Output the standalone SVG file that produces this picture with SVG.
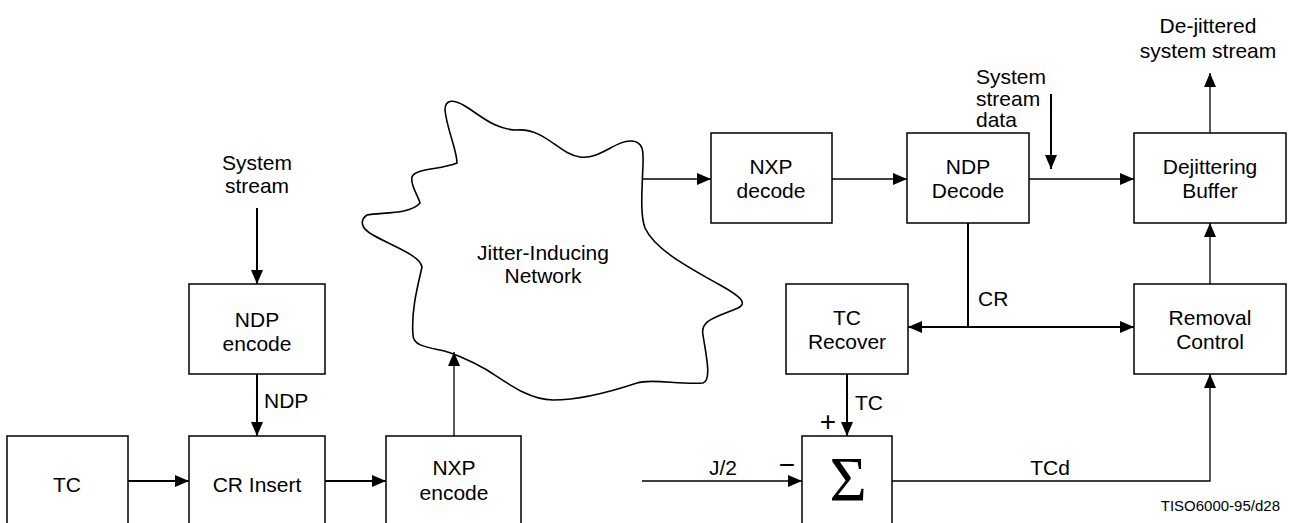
<svg xmlns="http://www.w3.org/2000/svg" width="1290" height="523" viewBox="0 0 1290 523">
<style>
.box{fill:#fff;stroke:#000;stroke-width:1.5}
.t{font-family:"Liberation Sans",Arial,sans-serif;font-size:21px;fill:#000;text-anchor:middle}
.l{text-anchor:start}
.thick{stroke:#000;stroke-width:2;fill:none}
.thin{stroke:#000;stroke-width:1.3;fill:none}
.arr{marker-end:url(#ah)}
</style>
<defs>
<marker id="ah" viewBox="0 0 14 12" refX="14" refY="6" markerWidth="14" markerHeight="12" markerUnits="userSpaceOnUse" orient="auto-start-reverse"><path d="M0,0 L14,6 L0,12 z" fill="#000"/></marker>
</defs>
<rect width="1290" height="523" fill="#fff"/>

<g id="cloud">
<path class="thin" style="stroke-width:1.6" d="M445,110 C445,98 455,100 465,106 C480,115 495,130 517,130 C545,128 560,155 580,157 C600,160 615,140 632,141 C645,142 643,155 643,165 C642,190 640,215 645,228 C655,250 690,268 720,285 C740,296 748,303 738,308 C715,318 700,320 703,335 C706,355 712,380 703,383 C680,385 650,378 637,383 C610,392 580,400 553,400 C530,400 510,385 487,370 C470,360 450,352 440,350 C425,347 413,345 413,335 C411,310 418,285 422,267 C420,255 390,245 373,235 C360,228 360,220 367,215 C380,212 410,215 420,203 C418,195 410,185 412,177 C415,168 440,170 457,163 C457,150 447,130 445,110 Z"/>
<text class="t" x="543" y="260">Jitter-Inducing</text>
<text class="t" x="543" y="283">Network</text>
</g>

<g id="tc"><rect class="box" x="7" y="436" width="121" height="100"/><text class="t" x="67" y="492">TC</text></g>
<g id="crinsert"><rect class="box" x="189" y="436" width="136" height="100"/><text class="t" x="257" y="492">CR Insert</text></g>
<g id="nxpencode"><rect class="box" x="386" y="436" width="135" height="100"/><text class="t" x="454" y="475">NXP</text><text class="t" x="454" y="500">encode</text></g>
<g id="ndpencode"><rect class="box" x="189" y="284" width="136" height="90"/><text class="t" x="257" y="327">NDP</text><text class="t" x="257" y="351">encode</text></g>
<g id="nxpdecode"><rect class="box" x="711" y="133" width="121" height="90"/><text class="t" x="771" y="174">NXP</text><text class="t" x="771" y="198">decode</text></g>
<g id="ndpdecode"><rect class="box" x="907" y="133" width="122" height="90"/><text class="t" x="968" y="174">NDP</text><text class="t" x="968" y="198">Decode</text></g>
<g id="dejitter"><rect class="box" x="1134" y="133" width="152" height="90"/><text class="t" x="1210" y="174">Dejittering</text><text class="t" x="1210" y="198">Buffer</text></g>
<g id="tcrecover"><rect class="box" x="786" y="284" width="122" height="90"/><text class="t" x="847" y="325">TC</text><text class="t" x="847" y="349">Recover</text></g>
<g id="removal"><rect class="box" x="1134" y="284" width="152" height="90"/><text class="t" x="1210" y="325">Removal</text><text class="t" x="1210" y="349">Control</text></g>
<g id="sigma"><rect class="box" x="802" y="436" width="90" height="100"/><text x="848" y="501" style="font-family:'Liberation Serif','Times New Roman',serif;font-size:64px;text-anchor:middle">Σ</text></g>

<g id="connectors">
<line class="thick arr" x1="128" y1="481" x2="189" y2="481"/>
<line class="thick arr" x1="325" y1="481" x2="386" y2="481"/>
<line class="thick arr" x1="257" y1="208" x2="257" y2="284"/>
<line class="thick arr" x1="257" y1="374" x2="257" y2="436"/>
<line class="thin arr" x1="454" y1="436" x2="454" y2="352"/>
<line class="thin arr" x1="643" y1="179" x2="711" y2="179"/>
<line class="thin arr" x1="832" y1="179" x2="907" y2="179"/>
<line class="thin arr" x1="1029" y1="179" x2="1134" y2="179"/>
<line class="thick arr" x1="1051" y1="94" x2="1051" y2="169"/>
<line class="thin arr" x1="1210" y1="133" x2="1210" y2="73"/>
<line class="thick" x1="968" y1="223" x2="968" y2="327"/>
<line class="thick arr" style="marker-start:url(#ah)" x1="908" y1="327" x2="1134" y2="327"/>
<line class="thin arr" x1="1210" y1="284" x2="1210" y2="223"/>
<line class="thick arr" x1="847" y1="374" x2="847" y2="436"/>
<line class="thin arr" x1="642" y1="481" x2="802" y2="481"/>
<polyline class="thin arr" points="892,481 1210,481 1210,374"/>
</g>

<g id="labels">
<text class="t" x="257" y="170">System</text>
<text class="t" x="257" y="193">stream</text>
<text class="t l" x="264" y="408">NDP</text>
<text class="t l" x="976" y="84">System</text>
<text class="t l" x="976" y="106">stream</text>
<text class="t l" x="976" y="127">data</text>
<text class="t" x="1208" y="33">De-jittered</text>
<text class="t" x="1208" y="58">system stream</text>
<text class="t l" x="978" y="306">CR</text>
<text class="t l" x="855" y="410">TC</text>
<text class="t" x="828" y="431" style="font-size:28px">+</text>
<text class="t" x="787" y="474" style="font-size:28px">−</text>
<text class="t" x="723" y="475">J/2</text>
<text class="t" x="1050" y="475">TCd</text>
<text class="t" x="1280" y="511" style="font-size:15px;text-anchor:end">TISO6000-95/d28</text>
</g>
</svg>
